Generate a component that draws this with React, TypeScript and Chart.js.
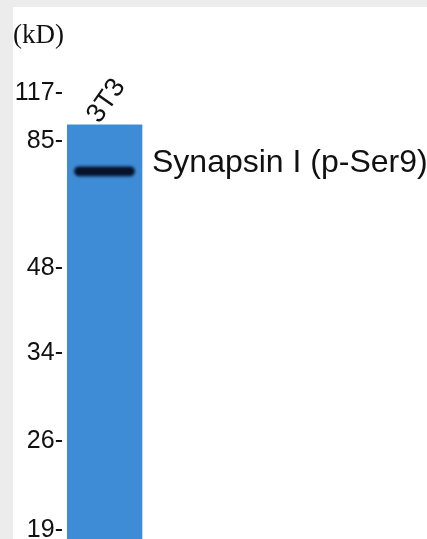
import React, { useEffect, useRef } from 'react';
import { Chart, registerables } from 'chart.js';

Chart.register(...registerables);

// Molecular weight markers (kD) and their migration (% of gel height shown)
const markerKd = [117, 85, 48, 34, 26, 19];
const markerMigration = [6.3, 16.4, 43.1, 60.9, 79.4, 98.1];

// Lanes
const laneLabels = ['3T3'];
const lanePosition = [1];
const laneRange: [number, number][] = [[13.0, 100]];

// Detected band
const bandName = 'Synapsin I (p-Ser9)';
const bandRange: [number, number][] = [[21.8, 23.7]];

const blotPlugin = {
  id: 'blotLabels',
  beforeDatasetDraw(chart: any, args: any) {
    if (args.index === 1) {
      chart.ctx.save();
      chart.ctx.filter = 'blur(1.7px)';
    }
  },
  afterDatasetDraw(chart: any, args: any) {
    if (args.index === 1) chart.ctx.restore();
  },
  afterDatasetsDraw(chart: any) {
    const ctx = chart.ctx;
    const laneEls = chart.getDatasetMeta(0).data;
    laneEls.forEach((el: any, i: number) => {
      const p = el.getProps(['x', 'y', 'base', 'width'], true);
      const top = Math.min(p.y, p.base);
      ctx.save();
      ctx.translate(p.x + 2, top - 24);
      ctx.rotate((-55 * Math.PI) / 180);
      ctx.font = '27px "Liberation Sans", Arial, sans-serif';
      ctx.fillStyle = '#111';
      ctx.textAlign = 'center';
      ctx.textBaseline = 'middle';
      ctx.fillText(laneLabels[i], 0, 0);
      ctx.restore();
    });
    const lane = laneEls[0].getProps(['x', 'width'], true);
    const bandEl = chart.getDatasetMeta(1).data[0];
    const b = bandEl.getProps(['y', 'base'], true);
    const cy = (b.y + b.base) / 2;
    ctx.save();
    ctx.font = '32px "Liberation Sans", Arial, sans-serif';
    ctx.fillStyle = '#111';
    ctx.textAlign = 'left';
    ctx.textBaseline = 'alphabetic';
    ctx.fillText(bandName, lane.x + lane.width / 2 + 10, cy + 1);
    ctx.restore();
  },
};

export default function App() {
  const ref = useRef<HTMLCanvasElement | null>(null);

  useEffect(() => {
    if (!ref.current) return;
    const chart = new Chart(ref.current, {
      type: 'bar',
      data: {
        datasets: [
          {
            label: 'lane',
            data: lanePosition.map((x, i) => ({ x, y: laneRange[i] })) as any,
            backgroundColor: '#3e8cd6',
            barThickness: 75,
            grouped: false,
            order: 2,
          },
          {
            label: bandName,
            data: lanePosition.map((x, i) => ({ x, y: bandRange[i] })) as any,
            backgroundColor: '#06112a',
            barThickness: 60,
            borderRadius: 5,
            borderSkipped: false,
            grouped: false,
            order: 1,
          },
        ],
      },
      options: {
        animation: false,
        responsive: false,
        events: [],
        layout: { padding: 0 },
        plugins: {
          legend: { display: false },
          tooltip: { enabled: false },
          title: {
            display: true,
            text: '(kD)',
            align: 'start',
            color: '#111',
            font: { family: '"Liberation Serif", "Times New Roman", serif', size: 27, weight: 'normal', lineHeight: '32px' },
            padding: { top: 13, bottom: 11 },
          },
        },
        scales: {
          x: {
            type: 'linear',
            display: false,
            min: 0,
            max: 9.6,
            offset: false,
            grid: { display: false },
          },
          y: {
            type: 'linear',
            reverse: true,
            min: 0,
            max: 100,
            border: { display: false },
            grid: { display: false, drawTicks: false },
            afterBuildTicks: (scale: any) => {
              scale.ticks = markerMigration.map((v) => ({ value: v }));
            },
            afterFit: (scale: any) => {
              scale.width = 54;
              scale.paddingTop = 0;
              scale.paddingBottom = 0;
            },
            ticks: {
              autoSkip: false,
              padding: 4,
              color: '#111',
              font: { family: '"Liberation Sans", Arial, sans-serif', size: 25 },
              callback: (_v: any, i: number) => `${markerKd[i]}-`,
            },
          },
        },
      },
      plugins: [blotPlugin],
    } as any);
    return () => chart.destroy();
  }, []);

  return (
    <div style={{ position: 'absolute', left: 0, top: 0, width: 427, height: 539, background: '#ececec', overflow: 'hidden' }}>
      <canvas
        ref={ref}
        width={414}
        height={532}
        style={{ position: 'absolute', left: 13, top: 7, width: 414, height: 532, background: '#ffffff' }}
      />
    </div>
  );
}
